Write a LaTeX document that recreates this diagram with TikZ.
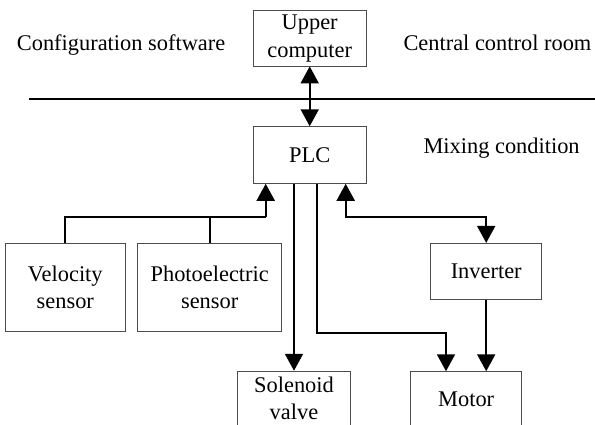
\documentclass[tikz,border=0pt]{standalone}
\usepackage{fontspec}
\setmainfont{Liberation Serif}
\usetikzlibrary{arrows.meta}
\begin{document}
\begin{tikzpicture}[x=1pt,y=-1pt,
  every node/.style={font=\fontsize{22.4}{27.6}\selectfont, inner sep=0pt},
  box/.style={draw=black!70, line width=0.9pt, fill=white, align=center},
  link/.style={line width=2pt, -{Triangle[width=18pt,length=17pt]}},
  both/.style={line width=2pt, {Triangle[width=18pt,length=17pt]}-{Triangle[width=18pt,length=17pt]}},
  label/.style={anchor=base west}]
\useasboundingbox (0,0) rectangle (595,424);

% region labels
\node[label] (cfg) at (16.7,50) {Configuration software};
\node[label] (ccr) at (403.3,50) {Central control room};
\node[label] (mix) at (423.3,153.3) {Mixing condition};

% separator between control room and field level
\coordinate (sepL) at (29,98.7);
\coordinate (sepR) at (600,98.7);
\draw[line width=2pt] (sepL) -- (sepR);

% blocks
\node[box, minimum width=112.7pt, minimum height=55.3pt] (upc) at (309.7,38.3) {Upper\\computer};
\node[box, minimum width=112.7pt, minimum height=56.6pt] (plc) at (309.7,155) {PLC};
\node[box, minimum width=120pt, minimum height=87.7pt] (vel) at (65.3,287.2) {Velocity\\sensor};
\node[box, minimum width=144pt, minimum height=87.7pt] (pho) at (209.7,287.2) {Photoelectric\\sensor};
\node[box, minimum width=111pt, minimum height=55.7pt] (inv) at (486.2,271.2) {Inverter};
\node[box, minimum width=112.6pt, minimum height=54pt] (sol) at (294,398.2) {Solenoid\\valve};
\node[box, minimum width=111pt, minimum height=56pt] (mot) at (466.2,399.7) {Motor};

% upper computer <-> PLC
\draw[both] (upc.south) -- (plc.north);

% sensors -> PLC
\coordinate (sj) at (265.7,216.7);
\draw[line width=2pt] (vel.north) |- (sj);
\draw[line width=2pt] (pho.north) -- (pho.north |- sj);
\draw[link] (sj) -- (sj |- plc.south);

% PLC <-> inverter
\coordinate (ij) at (345.7,216.7);
\draw[both] (ij |- plc.south) -- (ij) -| (inv.north);

% PLC -> solenoid valve
\draw[link] (plc.south -| sol.north) -- (sol.north);

% PLC -> motor
\coordinate (mj) at (317.3,333.3);
\coordinate (mk) at (446,333.3);
\draw[link] (mj |- plc.south) -- (mj) -- (mk) -- (mk |- mot.north);

% inverter -> motor
\draw[link] (inv.south) -- (inv.south |- mot.north);
\end{tikzpicture}
\end{document}
